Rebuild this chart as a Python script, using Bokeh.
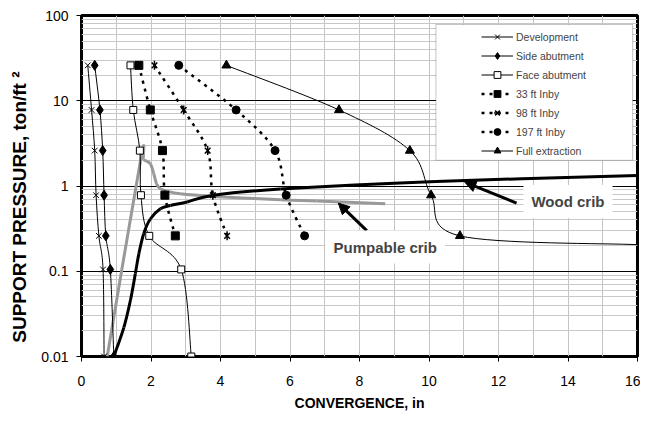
import numpy as np
from bokeh.plotting import figure
from bokeh.models import (FixedTicker, CustomJSTickFormatter, Legend, LegendItem,
                          BoxAnnotation, Label, Arrow, NormalHead, ColumnDataSource)
from bokeh.embed import file_html
from bokeh.resources import INLINE

# ---------------- data ----------------
pressure = [26.0, 7.8, 2.6, 0.78, 0.26, 0.105, 0.01]      # ton/ft^2
pressure_inby = [26.0, 7.8, 2.6, 0.78, 0.26]

dev_x = [0.18, 0.29, 0.38, 0.42, 0.50, 0.62, 0.65]
side_x = [0.38, 0.53, 0.61, 0.65, 0.70, 0.83, 0.93]
face_x = [1.41, 1.49, 1.68, 1.71, 1.95, 2.87, 3.16]
inby33_x = [1.65, 1.98, 2.33, 2.40, 2.70]
inby98_x = [2.10, 2.94, 3.63, 3.78, 4.19]
inby197_x = [2.80, 4.45, 5.57, 5.89, 6.42]
full_x = [4.17, 7.41, 9.45, 10.06, 10.89, 16.0]
full_y = [26.0, 7.8, 2.6, 0.78, 0.26, 0.205]

wood_x = [0.93, 1.22, 1.41, 1.55, 1.65, 1.79, 1.98, 2.27, 2.56, 3.04, 3.80, 5.72, 10.2, 16.0]
wood_y = [0.01, 0.022, 0.046, 0.094, 0.16, 0.276, 0.41, 0.54, 0.59, 0.65, 0.78, 0.92, 1.13, 1.33]

pump_x = [0.74, 1.70, 1.79, 1.98, 2.08, 2.16, 2.27, 2.46, 2.84, 3.80, 5.72, 6.77, 8.74]
pump_y = [0.01, 2.0, 2.03, 1.82, 1.39, 1.06, 0.93, 0.87, 0.81, 0.755, 0.69, 0.665, 0.62]

x_ticks = [0, 2, 4, 6, 8, 10, 12, 14, 16]
y_ticks = [0.01, 0.1, 1, 10, 100]

FONT = "Liberation Sans"


def smooth(xs, ys):
    """Excel-like smoothed line: cubic Bezier segments through the points."""
    P = np.column_stack([np.asarray(xs, float), np.log10(np.asarray(ys, float))])
    n = len(P)
    d = {k: [] for k in ("x0", "y0", "x1", "y1", "cx0", "cy0", "cx1", "cy1")}
    for i in range(n - 1):
        a = P[max(i - 1, 0)]
        b = P[i]
        c = P[i + 1]
        e = P[min(i + 2, n - 1)]
        c1 = b + (c - a) / 6.0
        c2 = c - (e - b) / 6.0
        d["x0"].append(b[0]); d["y0"].append(10 ** b[1])
        d["x1"].append(c[0]); d["y1"].append(10 ** c[1])
        d["cx0"].append(c1[0]); d["cy0"].append(10 ** c1[1])
        d["cx1"].append(c2[0]); d["cy1"].append(10 ** c2[1])
    return ColumnDataSource(d)


p = figure(width=640, height=415, x_range=(0, 16), y_range=(0.01, 100),
           y_axis_type="log", output_backend="svg", toolbar_location=None,
           min_border_left=81, min_border_right=3, min_border_top=15,
           min_border_bottom=59)
p.background_fill_color = "white"
p.border_fill_color = "white"
p.outline_line_color = "black"
p.outline_line_width = 3

# grids
p.xgrid.ticker = FixedTicker(ticks=list(range(0, 17)))
p.xgrid.grid_line_color = "#c4c4c4"
p.xgrid.grid_line_width = 1
minor_y = [m * 10.0 ** e for e in (-2, -1, 0, 1) for m in range(2, 10)]
yticker = FixedTicker(ticks=y_ticks, minor_ticks=minor_y)
p.yaxis.ticker = yticker
p.ygrid.ticker = yticker
p.ygrid.grid_line_color = "black"
p.ygrid.grid_line_width = 1
p.ygrid.minor_grid_line_color = "#c8c8c8"
p.ygrid.minor_grid_line_width = 1

# axes
p.xaxis.ticker = FixedTicker(ticks=x_ticks)
p.yaxis.formatter = CustomJSTickFormatter(code="return tick.toString();")
for ax in (p.xaxis[0], p.yaxis[0]):
    ax.axis_line_color = None
    ax.major_tick_out = 5
    ax.major_tick_in = 0
    ax.major_tick_line_color = "black"
    ax.minor_tick_line_color = None
    ax.major_label_text_font = FONT
    ax.major_label_text_font_size = "14px"
    ax.major_label_text_color = "black"
    ax.axis_label_text_font = FONT
    ax.axis_label_text_font_style = "bold"
    ax.axis_label_text_color = "black"
p.xaxis.major_label_standoff = 14
p.yaxis.major_label_standoff = 8
p.xaxis.axis_label = "CONVERGENCE, in"
p.xaxis.axis_label_text_font_size = "14px"
p.xaxis.axis_label_standoff = 6
# trailing no-break spaces push the rotated title a little lower, as in the reference
p.yaxis.axis_label = "SUPPORT PRESSURE, ton/ft \u00b2" + "\u00a0" * 8
p.yaxis.axis_label_text_font_size = "19px"
p.yaxis.axis_label_standoff = 8

BZ = dict(x0="x0", y0="y0", x1="x1", y1="y1", cx0="cx0", cy0="cy0", cx1="cx1", cy1="cy1")

# crib curves
p.bezier(**BZ, source=smooth(pump_x, pump_y), line_color="#999999", line_width=3)
p.bezier(**BZ, source=smooth(wood_x, wood_y), line_color="black", line_width=3)

items = []

# Development
l = p.bezier(**BZ, source=smooth(dev_x, pressure), line_color="black", line_width=1)
s = p.scatter(dev_x, pressure, marker="x", size=8, line_color="black", line_width=1)
items.append(LegendItem(label="Development", renderers=[l, s]))

# Side abutment
l = p.bezier(**BZ, source=smooth(side_x, pressure), line_color="black", line_width=1)
s = p.scatter(side_x, pressure, marker="diamond", size=10, line_color="black", fill_color="black")
items.append(LegendItem(label="Side abutment", renderers=[l, s]))

# Face abutment
l = p.bezier(**BZ, source=smooth(face_x, pressure), line_color="black", line_width=1)
s = p.scatter(face_x, pressure, marker="square", size=7, line_color="black", fill_color="white")
items.append(LegendItem(label="Face abutment", renderers=[l, s]))

DASH = "3 5"
# 33 ft Inby
l = p.bezier(**BZ, source=smooth(inby33_x, pressure_inby), line_color="black", line_width=2.5,
             line_dash=DASH)
s = p.scatter(inby33_x, pressure_inby, marker="square", size=8, line_color="black", fill_color="black")
items.append(LegendItem(label="33 ft Inby", renderers=[l, s]))

# 98 ft Inby
l = p.bezier(**BZ, source=smooth(inby98_x, pressure_inby), line_color="black", line_width=2.5,
             line_dash=DASH)
s1 = p.scatter(inby98_x, pressure_inby, marker="x", size=8, line_color="black", line_width=1.5)
s2 = p.scatter(inby98_x, pressure_inby, marker="dash", angle=np.pi / 2, size=9,
               line_color="black", line_width=1.5)
items.append(LegendItem(label="98 ft Inby", renderers=[l, s1, s2]))

# 197 ft Inby
l = p.bezier(**BZ, source=smooth(inby197_x, pressure_inby), line_color="black", line_width=2.5,
             line_dash=DASH)
s = p.scatter(inby197_x, pressure_inby, marker="circle", size=8, line_color="black", fill_color="black")
items.append(LegendItem(label="197 ft Inby", renderers=[l, s]))

# Full extraction
l = p.bezier(**BZ, source=smooth(full_x, full_y), line_color="black", line_width=1)
s = p.scatter(full_x[:-1], full_y[:-1], marker="triangle", size=9, line_color="black",
              fill_color="black")
items.append(LegendItem(label="Full extraction", renderers=[l, s]))

# legend frame (white box) and legend
box = BoxAnnotation(left=10.20, right=15.86, bottom=2.0, top=78.4,
                    fill_color="white", fill_alpha=1.0, line_color="#404040", line_width=1)
p.add_layout(box)
legend = Legend(items=items, location=(400, 197), padding=2, margin=0, spacing=2,
                glyph_width=32, glyph_height=17, label_height=17, label_standoff=3,
                label_text_font=FONT, label_text_font_size="10.5px",
                background_fill_alpha=0, border_line_color=None)
p.add_layout(legend)

# annotations: arrows and labels
p.add_layout(Arrow(end=NormalHead(size=11, fill_color="black", line_color="black"),
                   x_start=12.52, y_start=0.63, x_end=11.03, y_end=1.11,
                   line_color="black", line_width=3))
p.add_layout(Arrow(end=NormalHead(size=11, fill_color="black", line_color="black"),
                   x_start=8.21, y_start=0.30, x_end=7.39, y_end=0.63,
                   line_color="black", line_width=3))
p.add_layout(Label(x=14.0, y=0.66, text="Wood crib", text_align="center",
                   text_baseline="middle", text_font=FONT, text_font_style="bold",
                   text_font_size="15px", background_fill_color="white", padding=8))
p.add_layout(Label(x=8.74, y=0.192, text="Pumpable crib", text_align="center",
                   text_baseline="middle", text_font=FONT, text_font_style="bold",
                   text_font_size="15px", background_fill_color="white", padding=8))

open("out.html", "w").write(file_html(p, INLINE))
